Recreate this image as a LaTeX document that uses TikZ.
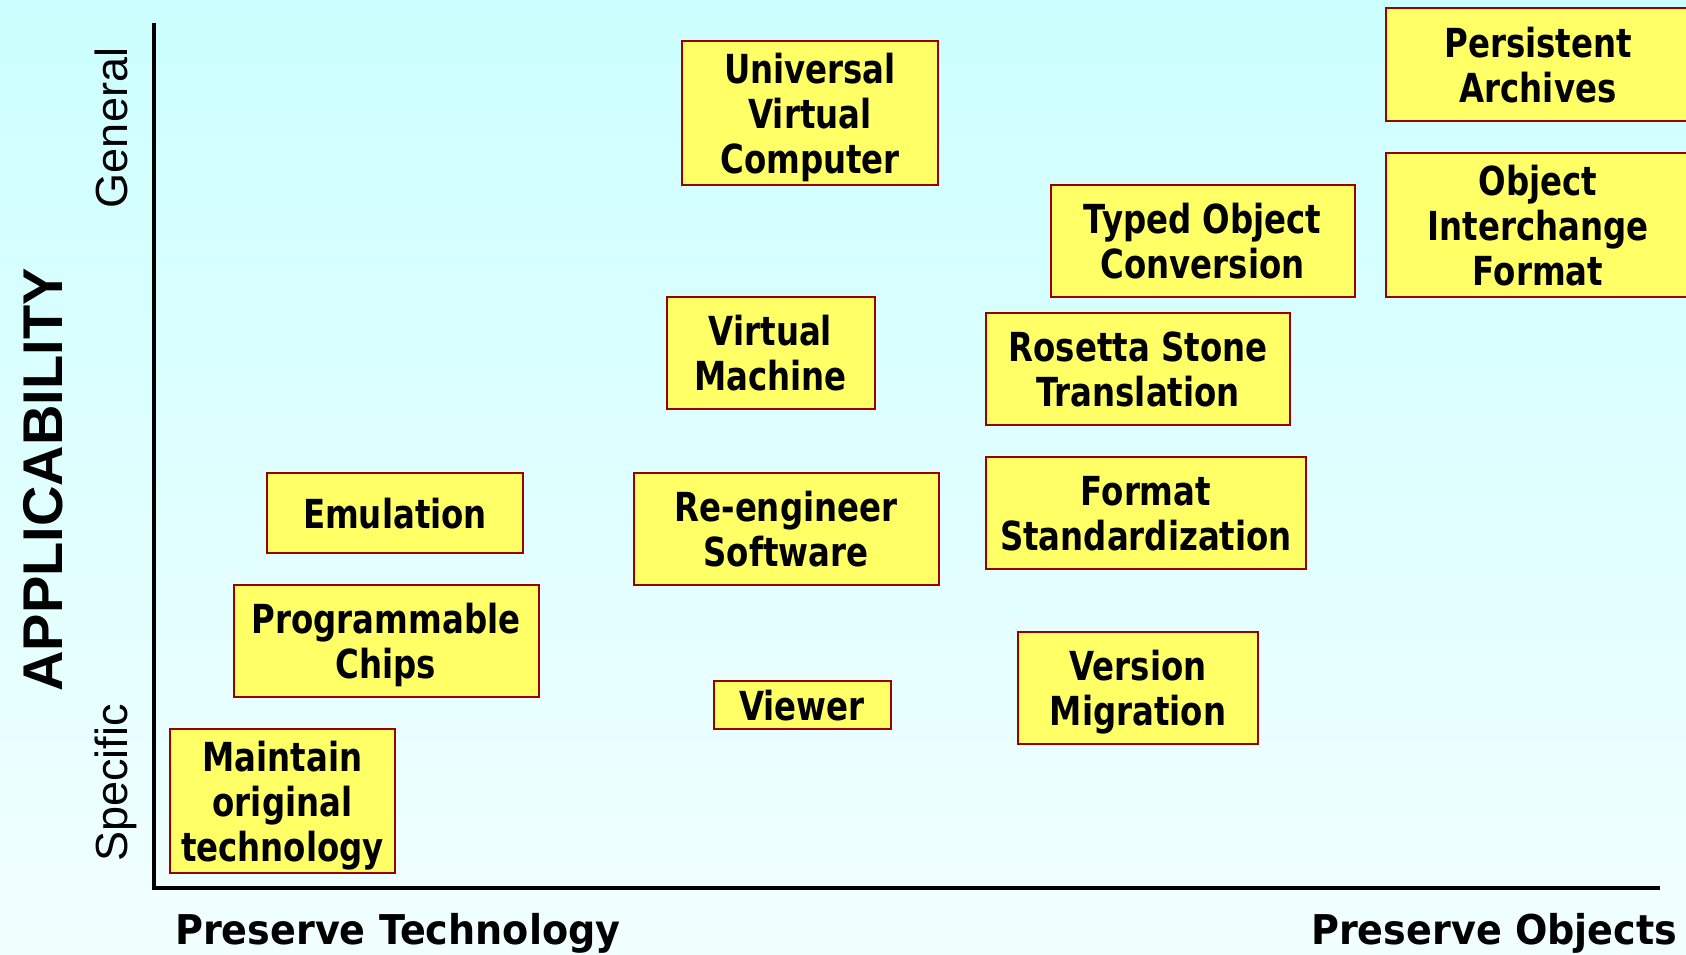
\documentclass[tikz,border=0pt]{standalone}
\usepackage{fontspec}
\newfontfamily\boxfont{DejaVu Sans}[FakeStretch=0.81]
\newfontfamily\labfont{DejaVu Sans}[FakeStretch=0.93]
\newfontfamily\arialfont{Liberation Sans}
\definecolor{bgtop}{RGB}{204,255,255}
\definecolor{bgbot}{RGB}{242,255,255}
\definecolor{boxfill}{RGB}{255,255,102}
\definecolor{boxline}{RGB}{153,0,0}
\begin{document}
\begin{tikzpicture}[x=1pt,y=-1pt,
  card/.style={draw=boxline, fill=boxfill, line width=2pt, inner sep=0pt, text depth=0pt,
    align=center, font=\boxfont\bfseries\fontsize{40}{45}\selectfont},
  axisline/.style={line width=3.5pt, line cap=rect},
  axislabel/.style={font=\labfont\bfseries\fontsize{41}{45}\selectfont, inner sep=0pt},
  ticklabel/.style={font=\arialfont\fontsize{45}{50}\selectfont, inner sep=0pt, rotate=90},
  titlelabel/.style={font=\arialfont\bfseries\fontsize{56}{60}\selectfont, inner sep=0pt, rotate=90}]
\useasboundingbox (0,0) rectangle (1686,955);
\clip (0,0) rectangle (1686,955);
\shade[top color=bgtop, bottom color=bgbot] (0,0) rectangle (1686,955);

% axes
\coordinate (ytop) at (154,25);
\coordinate (orig) at (154,888);
\coordinate (xend) at (1658,888);
\draw[axisline] (ytop) -- (orig) -- (xend);

% axis labels
\node[titlelabel, anchor=base] (appl) at (62,480) {APPLICABILITY};
\node[ticklabel, anchor=base] (gen) at (127,128) {General};
\node[ticklabel, anchor=base] (spec) at (127,783) {Specific};
\node[axislabel, anchor=base west] (ptech) at (175,944) {Preserve Technology};
\node[axislabel, anchor=base west] (pobj) at (1311,944) {Preserve Objects};

% boxes
\node[card, minimum width=256, minimum height=144] (uvc) at (810,113) {Universal\\Virtual\\Computer};
\node[card, minimum width=304, minimum height=113] (pa) at (1538,64.5) {Persistent\\Archives};
\node[card, minimum width=304, minimum height=144] (oif) at (1538,225) {Object\\Interchange\\Format};
\node[card, minimum width=304, minimum height=112] (toc) at (1202.5,241) {Typed Object\\Conversion};
\node[card, minimum width=208, minimum height=112] (vm) at (770.5,353) {Virtual\\Machine};
\node[card, minimum width=304, minimum height=112] (rst) at (1138,369) {Rosetta Stone\\Translation};
\node[card, minimum width=256, minimum height=80] (emu) at (395,513) {Emulation};
\node[card, minimum width=305, minimum height=112] (res) at (786,529) {Re-engineer\\Software};
\node[card, minimum width=320, minimum height=112] (fs) at (1146,513) {Format\\Standardization};
\node[card, minimum width=305, minimum height=112] (pc) at (386,641) {Programmable\\Chips};
\node[card, minimum width=177, minimum height=48] (view) at (802,705) {Viewer};
\node[card, minimum width=240, minimum height=112] (vmig) at (1138,688) {Version\\Migration};
\node[card, minimum width=225, minimum height=144] (mot) at (282.5,801) {Maintain\\original\\technology};
\end{tikzpicture}
\end{document}
